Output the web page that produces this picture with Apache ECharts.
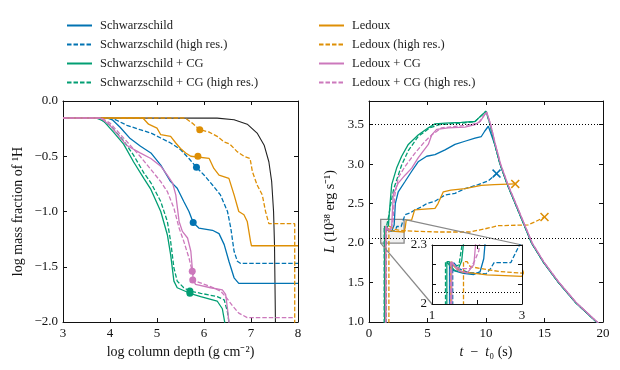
<!DOCTYPE html>
<html>
<head>
<meta charset="utf-8">
<script src="https://cdn.jsdelivr.net/npm/echarts@6/dist/echarts.min.js"></script>
<style>
  body { margin: 0; background: #fff; }
  #chart { width: 620px; height: 370px; }
</style>
</head>
<body>
<div id="chart"></div>
<script>
var FONT = 'Liberation Serif'

var names = [
  'Schwarzschild',
  'Schwarzschild (high res.)',
  'Schwarzschild + CG',
  'Schwarzschild + CG (high res.)',
  'Ledoux',
  'Ledoux (high res.)',
  'Ledoux + CG',
  'Ledoux + CG (high res.)'
]
var colors = ['#0173b2', '#0173b2', '#029e73', '#029e73', '#de8f05', '#de8f05', '#cc78bc', '#cc78bc']
var dashed = [false, true, false, true, false, true, false, true]

// left panel: log X(1H) vs log column depth
var schwProfile = [[3, -0.154], [3.95, -0.154], [4.05, -0.17], [4.22, -0.24], [4.43, -0.34], [4.65, -0.41], [4.87, -0.47], [5.08, -0.58], [5.29, -0.73], [5.43, -0.79], [5.57, -0.91], [5.68, -1.0], [5.77, -1.1], [5.89, -1.15], [6.18, -1.17], [6.32, -1.2], [6.43, -1.3], [6.53, -1.45], [6.64, -1.6], [6.74, -1.65], [8, -1.65]]
var schwHiProfile = [[3, -0.154], [4.02, -0.154], [4.12, -0.17], [4.36, -0.22], [4.64, -0.26], [4.87, -0.29], [5.08, -0.335], [5.29, -0.38], [5.5, -0.44], [5.68, -0.52], [5.84, -0.6], [6.0, -0.67], [6.18, -0.76], [6.35, -0.85], [6.5, -1.0], [6.57, -1.15], [6.64, -1.36], [6.71, -1.45], [6.78, -1.47], [8, -1.47]]
var schwCgProfile = [[3, -0.154], [3.7, -0.154], [3.86, -0.18], [4.07, -0.28], [4.29, -0.39], [4.5, -0.55], [4.72, -0.7], [4.87, -0.8], [5.08, -1.0], [5.22, -1.21], [5.29, -1.39], [5.36, -1.63], [5.43, -1.69], [5.7, -1.74], [5.93, -1.77], [6.28, -1.81], [6.39, -1.88], [6.44, -2.0], [6.46, -2.1]]
var schwCgHiProfile = [[3, -0.154], [3.75, -0.154], [4.0, -0.22], [4.29, -0.36], [4.5, -0.49], [4.72, -0.65], [4.87, -0.74], [5.08, -0.91], [5.22, -1.09], [5.29, -1.27], [5.36, -1.51], [5.43, -1.63], [5.57, -1.69], [5.7, -1.72], [5.93, -1.74], [6.28, -1.77], [6.43, -1.8], [6.5, -1.91], [6.53, -2.0], [6.55, -2.1]]
var ledProfile = [[3, -0.154], [4.7, -0.154], [4.82, -0.21], [5.0, -0.245], [5.08, -0.305], [5.29, -0.32], [5.4, -0.38], [5.5, -0.43], [5.61, -0.47], [5.72, -0.5], [6.11, -0.52], [6.21, -0.61], [6.32, -0.67], [6.53, -0.7], [6.64, -0.85], [6.74, -1.0], [6.85, -1.03], [6.92, -1.09], [6.99, -1.27], [7.01, -1.31], [8, -1.31]]
var ledHiProfile = [[3, -0.154], [5.6, -0.154], [5.75, -0.2], [5.91, -0.26], [6.1, -0.28], [6.28, -0.32], [6.43, -0.37], [6.55, -0.39], [6.71, -0.46], [6.85, -0.5], [6.98, -0.52], [7.03, -0.64], [7.13, -0.76], [7.24, -0.85], [7.31, -1.0], [7.38, -1.11], [7.93, -1.11], [7.93, -2.1]]
var ledCgProfile = [[3, -0.154], [3.8, -0.154], [4.0, -0.22], [4.35, -0.4], [4.64, -0.47], [4.87, -0.52], [5.08, -0.59], [5.22, -0.67], [5.33, -0.74], [5.4, -0.85], [5.47, -1.09], [5.54, -1.18], [5.65, -1.24], [5.72, -1.36], [5.75, -1.51], [5.77, -1.62], [5.82, -1.66], [6.14, -1.69], [6.39, -1.71], [6.46, -1.75], [6.5, -1.88], [6.53, -2.0], [6.55, -2.1]]
var ledCgHiProfile = [[3, -0.154], [3.82, -0.154], [4.0, -0.2], [4.3, -0.34], [4.64, -0.5], [4.87, -0.62], [5.08, -0.73], [5.22, -0.82], [5.36, -0.97], [5.47, -1.15], [5.57, -1.27], [5.68, -1.42], [5.75, -1.54], [5.82, -1.63], [6.14, -1.68], [6.35, -1.72], [6.46, -1.77], [6.6, -1.85], [6.74, -1.92], [6.92, -1.96], [7.93, -1.96]]
var initProfile = [[3, -0.154], [6.28, -0.155], [6.64, -0.17], [6.92, -0.21], [7.13, -0.29], [7.28, -0.4], [7.38, -0.55], [7.44, -0.73], [7.48, -1.0], [7.5, -1.3], [7.52, -2.0], [7.53, -2.1]]

// dots on the profiles
var profileDots = [[5.77, -1.1], [5.84, -0.6], [5.7, -1.74], [5.7, -1.72], [5.87, -0.5], [5.91, -0.26], [5.76, -1.62], [5.75, -1.54]]

// right panel: luminosity vs t - t0
var coolTail = [[10.35, 3.5], [10.75, 3.25], [11.2, 3.0], [11.8, 2.75], [12.5, 2.5], [13.2, 2.25], [13.9, 2.0], [14.9, 1.76], [16.2, 1.5], [17.7, 1.24], [19.45, 1.0], [20, 0.92]]
var coolTailCg = [[10.4, 3.5], [10.8, 3.25], [11.25, 3.0], [11.85, 2.75], [12.55, 2.5], [13.25, 2.25], [13.95, 2.0], [14.95, 1.76], [16.25, 1.5], [17.75, 1.24], [19.5, 1.0], [20, 0.93]]
var schwRise = [[1.39, 0.9], [1.39, 2.215], [1.48, 2.17], [1.7, 2.156], [1.93, 2.15], [2.07, 2.165], [2.15, 2.23], [2.25, 2.5], [2.5, 2.65], [3.08, 2.78], [3.65, 2.91], [4.2, 3.03], [4.93, 3.1], [5.64, 3.12], [6.5, 3.18], [7.35, 3.25], [8.2, 3.29], [9.06, 3.33], [9.6, 3.35], [9.9, 3.42], [10.2, 3.48]]
var schwHiRise = [[1.46, 0.9], [1.46, 2.215], [1.6, 2.18], [1.8, 2.16], [2.2, 2.153], [2.3, 2.18], [2.38, 2.21], [2.75, 2.21], [2.9, 2.28], [3.08, 2.36], [3.5, 2.38], [3.93, 2.42], [4.5, 2.46], [4.93, 2.5], [5.64, 2.53], [6.5, 2.61], [7.35, 2.63], [8.2, 2.69], [9.34, 2.74], [10.2, 2.79], [10.6, 2.84], [10.9, 2.88]]
var schwCgRise = [[1.33, 0.9], [1.33, 2.215], [1.44, 2.18], [1.56, 2.165], [1.66, 2.22], [1.72, 2.35], [1.8, 2.5], [1.94, 2.74], [2.36, 2.95], [2.79, 3.1], [3.36, 3.25], [4.2, 3.37], [5.07, 3.46], [5.64, 3.51], [6.5, 3.52], [7.9, 3.53], [9.06, 3.54], [9.34, 3.58], [10.0, 3.67]]
var schwCgHiRise = [[1.3, 0.9], [1.3, 2.215], [1.38, 2.215], [1.45, 2.18], [1.6, 2.2], [1.7, 2.35], [1.8, 2.45], [2.1, 2.68], [2.79, 2.99], [3.36, 3.17], [4.2, 3.35], [5.2, 3.46], [6.0, 3.5], [7.9, 3.52], [9.06, 3.54], [9.34, 3.58], [10.0, 3.67]]
var ledRise = [[1.42, 0.9], [1.42, 2.215], [1.5, 2.19], [1.63, 2.165], [2.22, 2.148], [3.0, 2.14], [3.1, 2.2], [3.18, 2.29], [3.64, 2.29], [3.9, 2.42], [5.64, 2.44], [5.9, 2.5], [6.35, 2.65], [7.0, 2.67], [8.2, 2.69], [9.6, 2.73], [10.7, 2.74], [12.5, 2.75]]
var ledHiRise = [[1.7, 0.9], [1.7, 2.215], [1.78, 2.215], [1.85, 2.19], [2.22, 2.175], [2.5, 2.165], [3.0, 2.157], [4.0, 2.15], [6.0, 2.14], [8.6, 2.14], [9.9, 2.18], [11.05, 2.22], [13.6, 2.23], [14.2, 2.27], [15.0, 2.33]]
var ledCgRise = [[1.44, 0.9], [1.44, 2.215], [1.56, 2.174], [1.78, 2.157], [1.93, 2.2], [1.96, 2.28], [2.0, 2.4], [2.08, 2.62], [2.5, 2.76], [3.08, 2.86], [3.65, 2.95], [4.2, 3.08], [5.07, 3.25], [5.36, 3.37], [5.78, 3.44], [6.78, 3.46], [8.2, 3.47], [9.06, 3.5], [9.5, 3.54], [9.9, 3.63], [10.05, 3.66]]
var ledCgHiRise = [[1.41, 0.9], [1.41, 2.215], [1.6, 2.18], [1.85, 2.18], [1.95, 2.22], [2.04, 2.27], [2.1, 2.4], [2.2, 2.6], [2.5, 2.83], [3.08, 2.97], [3.93, 3.14], [4.79, 3.29], [5.36, 3.37], [6.2, 3.46], [8.2, 3.49], [9.34, 3.52], [9.9, 3.63], [10.05, 3.66]]

// end-of-run crosses
var crossSchwHi = [10.9, 2.88]
var crossLed = [12.5, 2.75]
var crossLedHi = [15.0, 2.33]

// reference levels and zoom box [tMin, tMax, Lmin, Lmax]
var refLevels = [3.5, 2.06]
var zoomBox = [1, 3, 2, 2.3]

var profiles = [schwProfile, schwHiProfile, schwCgProfile, schwCgHiProfile, ledProfile, ledHiProfile, ledCgProfile, ledCgHiProfile]
var lums = [
  schwRise.concat(coolTail),
  schwHiRise,
  schwCgRise.concat(coolTail),
  schwCgHiRise.concat(coolTail),
  ledRise,
  ledHiRise,
  ledCgRise.concat(coolTailCg),
  ledCgHiRise.concat(coolTailCg)
]
var crosses = [null, crossSchwHi, null, null, crossLed, crossLedHi, null, null]

var crossPath = 'path://M0,1.2L1.2,0L5,3.8L8.8,0L10,1.2L6.2,5L10,8.8L8.8,10L5,6.2L1.2,10L0,8.8L3.8,5Z'

var myChart = echarts.init(document.getElementById('chart'))

function lineStyleOf(i) {
  return { color: colors[i], width: 1.3, type: dashed[i] ? [4.5, 2] : 'solid' }
}

function minus(v) {
  return v.toFixed(1).replace('-', '\u2212')
}

function makeAxis(grid, pos, min, max, interval, labelFmt, extra) {
  var ax = {
    type: 'value',
    gridIndex: grid,
    position: pos,
    min: min,
    max: max,
    interval: interval,
    axisLine: { show: true, onZero: false, lineStyle: { color: '#111', width: 1 } },
    axisTick: { show: true, inside: true, length: 4, lineStyle: { color: '#111', width: 1 } },
    splitLine: { show: false },
    axisLabel: labelFmt
      ? { show: true, formatter: labelFmt, fontFamily: FONT, fontSize: 13, color: '#111', margin: 5 }
      : { show: false }
  }
  for (var k in extra) ax[k] = extra[k]
  return ax
}

var nameStyle = {
  fontFamily: FONT,
  fontSize: 14,
  color: '#111',
  rich: { i: { fontFamily: FONT, fontSize: 14, fontStyle: 'italic', color: '#111' } }
}

var series = []

// left panel lines
for (var i = 0; i < 8; i++) {
  series.push({
    name: names[i],
    type: 'line',
    xAxisIndex: 0,
    yAxisIndex: 0,
    data: profiles[i],
    symbol: 'none',
    lineStyle: lineStyleOf(i),
    itemStyle: { color: colors[i] },
    markPoint: {
      symbol: 'circle',
      symbolSize: 7,
      label: { show: false },
      itemStyle: { color: colors[i] },
      data: [{ coord: profileDots[i] }]
    }
  })
}
series.push({
  name: 'initial',
  type: 'line',
  xAxisIndex: 0,
  yAxisIndex: 0,
  data: initProfile,
  symbol: 'none',
  z: 1,
  lineStyle: { color: '#222', width: 1.1 }
})

// right panel lines
for (var i = 0; i < 8; i++) {
  var s = {
    name: names[i],
    type: 'line',
    xAxisIndex: 2,
    yAxisIndex: 2,
    data: lums[i],
    symbol: 'none',
    lineStyle: lineStyleOf(i),
    itemStyle: { color: colors[i] }
  }
  if (crosses[i]) {
    s.markPoint = {
      symbol: crossPath,
      symbolSize: 9,
      label: { show: false },
      itemStyle: { color: colors[i] },
      data: [{ coord: crosses[i] }]
    }
  }
  series.push(s)
}
// reference lines + zoom box in main panel
series.push({
  name: 'refs',
  type: 'line',
  xAxisIndex: 2,
  yAxisIndex: 2,
  data: [],
  z: 3,
  markLine: {
    silent: true,
    symbol: ['none', 'none'],
    label: { show: false },
    lineStyle: { color: '#000', width: 1, type: [1, 2] },
    data: refLevels.map(function(v) { return { yAxis: v } })
  },
  markArea: {
    silent: true,
    itemStyle: { color: 'rgba(120,120,120,0.1)', borderColor: '#888', borderWidth: 1.3 },
    data: [[{ coord: [zoomBox[0], zoomBox[2]] }, { coord: [zoomBox[1], zoomBox[3]] }]]
  }
})

// inset lines
for (var i = 0; i < 8; i++) {
  series.push({
    name: names[i],
    type: 'line',
    xAxisIndex: 4,
    yAxisIndex: 4,
    data: lums[i],
    symbol: 'none',
    z: 6,
    lineStyle: lineStyleOf(i),
    itemStyle: { color: colors[i] }
  })
}
series.push({
  name: 'insetRef',
  type: 'line',
  xAxisIndex: 4,
  yAxisIndex: 4,
  data: [],
  z: 6,
  markLine: {
    silent: true,
    symbol: ['none', 'none'],
    label: { show: false },
    lineStyle: { color: '#000', width: 1, type: [1, 2] },
    data: [{ yAxis: refLevels[1] }]
  }
})

var legendBase = {
  orient: 'vertical',
  top: 14,
  itemWidth: 25,
  itemHeight: 14,
  itemGap: 6,
  itemStyle: { opacity: 0 },
  textStyle: { fontFamily: FONT, fontSize: 12.5, color: '#222', padding: [0, 0, 0, 3] }
}

var option = {
  animation: false,
  backgroundColor: '#fff',
  legend: [
    Object.assign({ data: names.slice(0, 4), left: 61 }, legendBase),
    Object.assign({ data: names.slice(4, 8), left: 313 }, legendBase)
  ],
  grid: [
    { left: 63, top: 101, width: 235, height: 221 },
    { left: 369, top: 101, width: 234, height: 221 },
    { left: 432, top: 245, width: 90, height: 59, show: true, backgroundColor: '#fff', borderWidth: 0, z: 5 }
  ],
  xAxis: [
    makeAxis(0, 'bottom', 3, 8, 1, function(v) { return v }, {
      name: 'log column depth (g cm\u207B\u00B2)',
      nameLocation: 'middle',
      nameGap: 23,
      nameTextStyle: nameStyle
    }),
    makeAxis(0, 'top', 3, 8, 1, null),
    makeAxis(1, 'bottom', 0, 20, 5, function(v) { return v }, {
      name: '{i|t}  \u2212  {i|t}\u2080 (s)',
      nameLocation: 'middle',
      nameGap: 23,
      nameTextStyle: nameStyle
    }),
    makeAxis(1, 'top', 0, 20, 5, null),
    makeAxis(2, 'bottom', 1, 3, 1, function(v) { return v === 2 ? '' : v }, { z: 7 }),
    makeAxis(2, 'top', 1, 3, 1, null, { z: 7 })
  ],
  yAxis: [
    makeAxis(0, 'left', -2, 0, 0.5, minus, {
      name: 'log mass fraction of \u00B9H',
      nameLocation: 'middle',
      nameGap: 38,
      nameTextStyle: nameStyle
    }),
    makeAxis(0, 'right', -2, 0, 0.5, null),
    makeAxis(1, 'left', 1, 3.8, 0.5, function(v) { return Math.abs(v * 2 - Math.round(v * 2)) < 1e-6 ? v.toFixed(1) : '' }, {
      name: '{i|L} (10\u00B3\u2078 erg s\u207B\u00B9)',
      nameLocation: 'middle',
      nameGap: 32,
      nameTextStyle: nameStyle
    }),
    makeAxis(1, 'right', 1, 3.8, 0.5, null),
    makeAxis(2, 'left', 2, 2.3, 0.1, function(v) {
      if (Math.abs(v - 2) < 1e-6) return '2'
      if (Math.abs(v - 2.3) < 1e-6) return '2.3'
      return ''
    }, { z: 7 }),
    makeAxis(2, 'right', 2, 2.3, 0.1, null, { z: 7 })
  ],
  series: series
}

myChart.setOption(option, true)

// connector lines from zoom box to inset corners
var boxTR = myChart.convertToPixel({ xAxisIndex: 2, yAxisIndex: 2 }, [zoomBox[1], zoomBox[3]])
var boxBL = myChart.convertToPixel({ xAxisIndex: 2, yAxisIndex: 2 }, [zoomBox[0], zoomBox[2]])
var insTR = myChart.convertToPixel({ xAxisIndex: 4, yAxisIndex: 4 }, [zoomBox[1], zoomBox[3]])
var insBL = myChart.convertToPixel({ xAxisIndex: 4, yAxisIndex: 4 }, [zoomBox[0], zoomBox[2]])
myChart.setOption({
  graphic: [
    { type: 'line', z: 4, silent: true, shape: { x1: boxTR[0], y1: boxTR[1], x2: insTR[0], y2: insTR[1] }, style: { stroke: '#888', lineWidth: 1.2 } },
    { type: 'line', z: 4, silent: true, shape: { x1: boxBL[0], y1: boxBL[1], x2: insBL[0], y2: insBL[1] }, style: { stroke: '#888', lineWidth: 1.2 } }
  ]
})
</script>
</body>
</html>
